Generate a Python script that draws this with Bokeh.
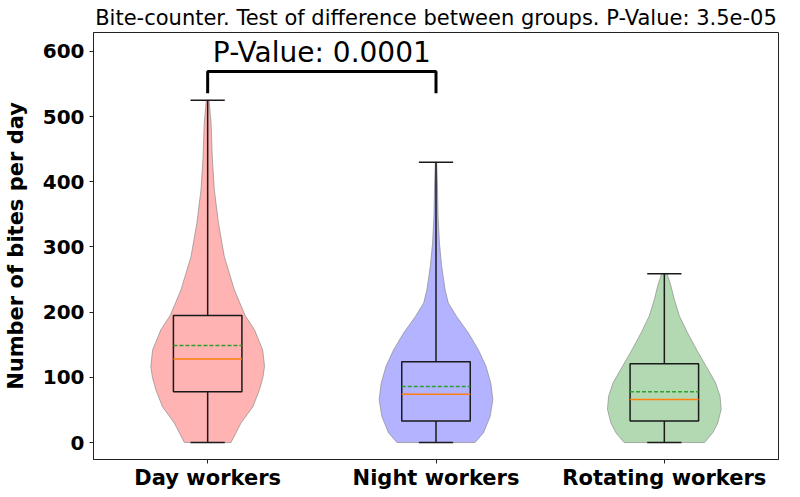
from bokeh.plotting import figure
from bokeh.models import Range1d, FixedTicker
from bokeh.core.properties import value
from bokeh.embed import file_html
from bokeh.resources import INLINE

# ---- data ----
groups = ["Day workers", "Night workers", "Rotating workers"]
positions = [1, 2, 3]
colors = ["#ffb3b3", "#b3b3ff", "#b3d9b3"]

# box statistics (whiskers span min..max)
mins = [0, 0, 0]
q1s = [78, 33, 33]
medians = [128, 74, 66]
means = [149, 86, 78]
q3s = [195, 124, 121]
maxs = [525, 430, 259]

# violin outlines: levels (bites/day) and half-widths (x units)
day_levels = [0, 30, 55, 81, 100, 117, 142, 173, 195, 234, 285, 337, 388, 439, 490, 525]
day_halfw = [0.102, 0.146, 0.198, 0.227, 0.242, 0.249, 0.241, 0.205, 0.164, 0.117, 0.073, 0.047, 0.029, 0.02, 0.015, 0.006]
night_levels = [0, 15, 40, 66, 91, 117, 142, 168, 193, 214, 234, 270, 306, 347, 398, 430]
night_halfw = [0.171, 0.208, 0.237, 0.249, 0.24, 0.219, 0.186, 0.142, 0.091, 0.054, 0.04, 0.025, 0.015, 0.009, 0.006, 0.003]
rot_levels = [0, 15, 30, 51, 71, 92, 117, 142, 168, 194, 219, 240, 259]
rot_halfw = [0.176, 0.212, 0.234, 0.249, 0.244, 0.224, 0.183, 0.142, 0.102, 0.066, 0.044, 0.029, 0.012]
violin_levels = [day_levels, night_levels, rot_levels]
violin_halfw = [day_halfw, night_halfw, rot_halfw]

title_text = "Bite-counter. Test of difference between groups. P-Value: 3.5e-05"
pair_text = "P-Value: 0.0001"
pair_groups = [1, 2]
bracket_top = 569
bracket_tip = 536
pair_text_y = 598

yticks = [0, 100, 200, 300, 400, 500, 600]

box_width = 0.3
cap_width = 0.15

FONT = "DejaVu Sans"

p = figure(frame_width=685, frame_height=427, output_backend="svg", toolbar_location=None,
           x_range=Range1d(0.5, 3.5), y_range=Range1d(-26, 629),
           min_border_left=84, min_border_right=5, min_border_top=29, min_border_bottom=26)

p.title.text = title_text
p.title.align = "center"
p.title.text_font = FONT
p.title.text_font_style = "normal"
p.title.text_font_size = "21px"
p.title.text_color = "black"
p.title.standoff = 6

p.xgrid.visible = False
p.ygrid.visible = False
p.outline_line_color = "#222222"
p.outline_line_width = 1
p.background_fill_color = "white"
p.border_fill_color = "white"

# violins
for pos, lv, hw, col in zip(positions, violin_levels, violin_halfw, colors):
    xs = [pos + w for w in hw] + [pos - w for w in reversed(hw)]
    ys = list(lv) + list(reversed(lv))
    p.patch(xs, ys, fill_color=col, fill_alpha=1.0, line_color="#8c8c8c", line_alpha=0.7, line_width=1)

# whiskers
for pos, lo, q1, q3, hi in zip(positions, mins, q1s, q3s, maxs):
    p.segment(x0=[pos, pos], y0=[lo, q3], x1=[pos, pos], y1=[q1, hi], line_color="#1a1a1a", line_width=1.5)
    p.segment(x0=[pos - cap_width / 2] * 2, y0=[lo, hi], x1=[pos + cap_width / 2] * 2, y1=[lo, hi],
              line_color="#1a1a1a", line_width=1.5)

# boxes
p.quad(left=[x - box_width / 2 for x in positions], right=[x + box_width / 2 for x in positions],
       bottom=q1s, top=q3s, fill_alpha=0, line_color="#1a1a1a", line_width=1.5)
# medians
p.segment(x0=[x - box_width / 2 for x in positions], x1=[x + box_width / 2 for x in positions],
          y0=medians, y1=medians, line_color="#ff7f0e", line_width=1.5)
# means
p.segment(x0=[x - box_width / 2 for x in positions], x1=[x + box_width / 2 for x in positions],
          y0=means, y1=means, line_color="#2ca02c", line_width=1.5, line_dash="4 2")

# significance bracket
a, b = pair_groups
p.line([a, a, b, b], [bracket_tip, bracket_top, bracket_top, bracket_tip], line_color="black", line_width=3)
p.text(x=[(a + b) / 2], y=[pair_text_y], text=[pair_text], text_font=value(FONT), text_font_size="28px",
       text_align="center", text_baseline="alphabetic", text_color="black")

# axes
p.xaxis.ticker = FixedTicker(ticks=positions)
p.xaxis.major_label_overrides = {pos: g for pos, g in zip(positions, groups)}
p.yaxis.ticker = FixedTicker(ticks=yticks)
for ax in (p.xaxis, p.yaxis):
    ax.major_label_text_font = FONT
    ax.major_label_text_font_style = "bold"
    ax.major_label_text_color = "black"
    ax.axis_line_color = "#222222"
    ax.major_tick_line_color = "#222222"
    ax.major_tick_in = 0
    ax.major_tick_out = 4
    ax.minor_tick_line_color = None
p.xaxis.major_label_text_font_size = "21px"
p.xaxis.major_label_standoff = 2
p.yaxis.major_label_text_font_size = "20px"
p.yaxis.major_label_standoff = 5
p.yaxis.axis_label = "Number of bites per day"
p.yaxis.axis_label_text_font = FONT
p.yaxis.axis_label_text_font_style = "bold"
p.yaxis.axis_label_text_font_size = "21px"
p.yaxis.axis_label_text_color = "black"
p.yaxis.axis_label_standoff = 12

open("out.html", "w").write(file_html(p, INLINE))
